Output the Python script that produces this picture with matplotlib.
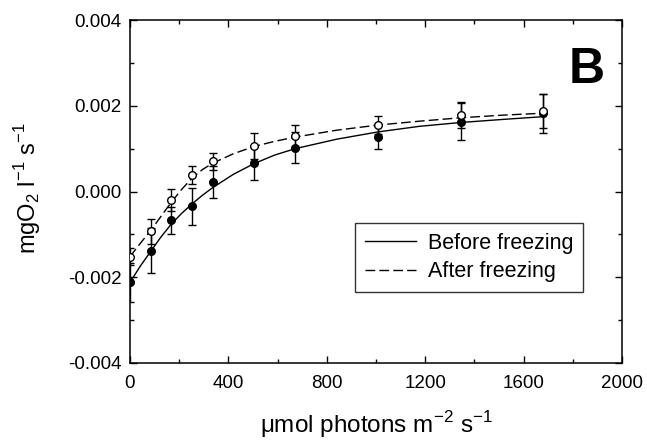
import numpy as np
import matplotlib.pyplot as plt
from matplotlib.ticker import MultipleLocator, FormatStrFormatter

plt.rcParams['font.family'] = ['Liberation Sans', 'DejaVu Sans']
plt.rcParams['axes.unicode_minus'] = False
plt.rcParams['mathtext.fontset'] = 'custom'
plt.rcParams['mathtext.rm'] = 'Liberation Sans'

# measured points (light intensity, O2 rate)
light = [0, 84, 168, 252, 336, 504, 672, 1008, 1344, 1680]
before = [-0.00212, -0.00138, -0.00067, -0.00034, 0.00022, 0.00066, 0.00102,
          0.00128, 0.00163, 0.00182]
before_err = [0.00045, 0.00052, 0.00032, 0.00043, 0.00037, 0.0004, 0.00036,
              0.0003, 0.00044, 0.00045]
after = [-0.00152, -0.00093, -0.00019, 0.00039, 0.0007, 0.00106, 0.00129,
         0.00155, 0.00178, 0.00187]
after_err = [0.0002, 0.0003, 0.00026, 0.00021, 0.0002, 0.0003, 0.00026,
             0.0002, 0.0003, 0.0004]

# fitted curves
curve_x = [0, 42, 84, 126, 168, 210, 252, 294, 336, 420, 504, 588, 672,
           840, 1008, 1176, 1344, 1512, 1690]
curve_before = [-0.00212, -0.00174, -0.00140, -0.00106, -0.00076, -0.00051,
                -0.00029, -0.00009, 0.00009, 0.00040, 0.00065, 0.00085,
                0.00100, 0.00122, 0.00139, 0.00152, 0.00161, 0.00168, 0.00175]
curve_after = [-0.00152, -0.00121, -0.00091, -0.00058, -0.00025, 0.00005,
               0.00031, 0.00051, 0.00066, 0.00088, 0.00105, 0.00117,
               0.00127, 0.00143, 0.00155, 0.00164, 0.00172, 0.00178, 0.00183]

fig = plt.figure(figsize=(6.47, 4.45), dpi=100)
ax = fig.add_axes([0.2009, 0.1843, 0.7605, 0.7707])

ax.plot(curve_x, curve_before, color='black', lw=1.0, label='Before freezing')
ax.plot(curve_x, curve_after, color='black', lw=1.0, dashes=(7, 3),
        label='After freezing')

ax.errorbar(light, before, yerr=before_err, fmt='o', color='black',
            mfc='black', mec='black', ms=5.5, capsize=2.6, elinewidth=1,
            capthick=1, zorder=3)
ax.errorbar(light, after, yerr=after_err, fmt='o', color='black',
            mfc='white', mec='black', ms=5.5, capsize=2.6, elinewidth=1,
            capthick=1, zorder=4)

ax.set_xlim(0, 2000)
ax.set_ylim(-0.004, 0.004)
ax.xaxis.set_major_locator(MultipleLocator(400))
ax.xaxis.set_minor_locator(MultipleLocator(200))
ax.yaxis.set_major_locator(MultipleLocator(0.002))
ax.yaxis.set_minor_locator(MultipleLocator(0.001))
ax.yaxis.set_major_formatter(FormatStrFormatter('%.3f'))
ax.tick_params(which='both', direction='in', top=True, right=True,
               labelsize=13.5, width=1)
ax.tick_params(which='major', length=5)
ax.tick_params(which='minor', length=3)
ax.tick_params(axis='x', which='major', pad=9)
ax.tick_params(axis='y', which='major', pad=6)
for s in ax.spines.values():
    s.set_linewidth(1.1)

ax.set_xlabel(r'μmol photons m$^{\mathregular{-2}}$ s$^{\mathregular{-1}}$',
              fontsize=17.5)
ax.xaxis.set_label_coords(0.5, -0.135)
ax.set_ylabel(r'mgO$_{\mathregular{2}}$ l$^{\mathregular{-1}}$ s$^{\mathregular{-1}}$',
              fontsize=17)
ax.yaxis.set_label_coords(-0.177, 0.51)

ax.text(0.929, 0.855, 'B', transform=ax.transAxes, fontsize=36,
        fontweight='bold', ha='center', va='center')

leg = ax.legend(loc='upper left', bbox_to_anchor=(0.457, 0.408),
                borderaxespad=0, fontsize=15.5, frameon=True, fancybox=False,
                edgecolor='black', handlelength=2.4, handletextpad=0.55,
                borderpad=0.45, labelspacing=0.35)
leg.get_frame().set_linewidth(1.0)

fig.savefig('out.png', dpi=100)
